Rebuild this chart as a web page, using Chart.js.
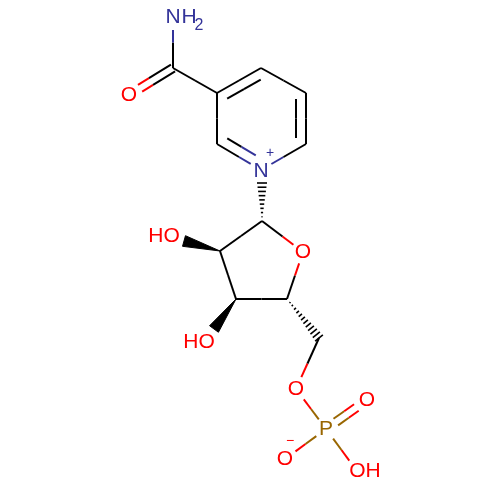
<!DOCTYPE html>
<html>
<head>
<meta charset="utf-8">
<title>Nicotinamide riboside phosphate</title>
<script src="https://cdn.jsdelivr.net/npm/chart.js@4"></script>
<style>
  html, body { margin: 0; padding: 0; background: #fff; }
  canvas { display: block; }
</style>
</head>
<body>
<canvas id="mol" width="500" height="500"></canvas>
<script>
// atoms
const atomX = [173, 173, 129, 217, 261, 306, 306, 261, 217, 262, 303, 287, 236, 220, 319, 296, 326, 367, 285, 357];
const atomY = [ 17,  68,  95,  93,  68,  93, 144, 170, 144, 221, 252, 299, 299, 251, 338, 389, 429, 400, 459, 471];
const atomColor = ['#333399', '#000', '#f00', '#000', '#000', '#000', '#000', '#333399', '#000', '#000', '#f00', '#000', '#000', '#000', '#000', '#f00', '#996600', '#f00', '#f00', '#f00'];
const atomGap = [13, 0, 13, 0, 0, 0, 0, 12, 0, 0, 12, 0, 0, 0, 0, 13, 12, 13, 13, 13];

// bonds: 1 single, 2 double either side of the axis, 3 double with inner line
const bondFrom  = [0, 1, 1, 3, 4, 5, 6, 7, 8, 9, 10, 11, 12, 13, 14, 15, 16, 16, 16];
const bondTo    = [1, 2, 3, 4, 5, 6, 7, 8, 3, 10, 11, 12, 13, 9, 15, 16, 17, 18, 19];
const bondOrder = [1, 2, 1, 3, 1, 3, 1, 3, 1, 1, 1, 1, 1, 1, 1, 1, 2, 1, 1];
const ringCenter = [261, 119];

// stereo bonds: narrow atom, wide end
const wedgeX0 = [220, 236];
const wedgeY0 = [251, 299];
const wedgeX1 = [184, 214];
const wedgeY1 = [241, 329];
const hashX0 = [262, 287];
const hashY0 = [221, 299];
const hashX1 = [262, 319];
const hashY1 = [183, 338];

// text
const labelText = ['N', 'H', '2', 'O', 'N', '+', 'HO', 'HO', 'O', 'O', 'P', 'O', 'O', '\u2212', 'OH'];
const labelX = [173, 189, 199, 129, 261, 270, 164, 199, 303, 296, 326, 367, 285, 290, 365];
const labelY = [17, 17, 26, 95, 171, 153, 236, 342, 252, 389, 429, 400, 459, 441, 471];
const labelSize = [21, 21, 16, 21, 21, 14, 21, 21, 21, 21, 21, 21, 21, 14, 21];
const labelColor = ['#333399', '#333399', '#333399', '#f00', '#333399', '#333399', '#f00', '#f00', '#f00', '#f00', '#996600', '#f00', '#f00', '#f00', '#f00'];

const datasets = [];

function seg(x0, y0, x1, y1, color, width) {
    datasets.push({
        data: [{ x: x0, y: y0 }, { x: x1, y: y1 }],
        borderColor: color,
        borderWidth: width || 2,
        pointRadius: 0,
        tension: 0,
        fill: false
    });
}

// line in two colours, split halfway like the bond it belongs to
function twoTone(x0, y0, x1, y1, c0, c1) {
    const mx = (x0 + x1) / 2, my = (y0 + y1) / 2;
    seg(x0, y0, mx, my, c0);
    seg(mx, my, x1, y1, c1);
}

bondFrom.forEach((a, i) => {
    const b = bondTo[i], order = bondOrder[i];
    let x0 = atomX[a], y0 = atomY[a], x1 = atomX[b], y1 = atomY[b];
    const len = Math.hypot(x1 - x0, y1 - y0);
    const ux = (x1 - x0) / len, uy = (y1 - y0) / len;
    const mx = (x0 + x1) / 2, my = (y0 + y1) / 2;
    const sx0 = x0 + ux * atomGap[a], sy0 = y0 + uy * atomGap[a];
    const sx1 = x1 - ux * atomGap[b], sy1 = y1 - uy * atomGap[b];
    const nx = -uy, ny = ux;

    if (order === 2) {
        [-4, 4].forEach(o => {
            seg(sx0 + nx * o, sy0 + ny * o, mx + nx * o, my + ny * o, atomColor[a]);
            seg(mx + nx * o, my + ny * o, sx1 + nx * o, sy1 + ny * o, atomColor[b]);
        });
        return;
    }
    seg(sx0, sy0, mx, my, atomColor[a]);
    seg(mx, my, sx1, sy1, atomColor[b]);
    if (order === 3) {
        const side = ((ringCenter[0] - mx) * nx + (ringCenter[1] - my) * ny) > 0 ? 1 : -1;
        const o = 10 * side, cut = 6;
        const ax = x0 + ux * cut + nx * o, ay = y0 + uy * cut + ny * o;
        const bx = x1 - ux * cut + nx * o, by = y1 - uy * cut + ny * o;
        const endCut = atomGap[b] ? 6 : 0, startCut = atomGap[a] ? 6 : 0;
        twoTone(ax + ux * startCut, ay + uy * startCut, bx - ux * endCut, by - uy * endCut, atomColor[a], atomColor[b]);
    }
});

wedgeX0.forEach((x0, i) => {
    const y0 = wedgeY0[i], x1 = wedgeX1[i], y1 = wedgeY1[i];
    const len = Math.hypot(x1 - x0, y1 - y0);
    const nx = -(y1 - y0) / len * 5.5, ny = (x1 - x0) / len * 5.5;
    datasets.push({
        data: [{ x: x0, y: y0 }, { x: x1 + nx, y: y1 + ny }, { x: x1 - nx, y: y1 - ny }, { x: x0, y: y0 }],
        borderColor: '#000',
        borderWidth: 1,
        backgroundColor: '#000',
        pointRadius: 0,
        tension: 0,
        fill: 'shape'
    });
});

hashX0.forEach((x0, i) => {
    const y0 = hashY0[i], x1 = hashX1[i], y1 = hashY1[i];
    const len = Math.hypot(x1 - x0, y1 - y0);
    const ux = (x1 - x0) / len, uy = (y1 - y0) / len;
    const count = Math.round(len / 4.3);
    for (let k = 1; k <= count; k++) {
        const t = k / count, w = 5 * t;
        const px = x0 + (x1 - x0) * t, py = y0 + (y1 - y0) * t;
        seg(px - uy * w, py + ux * w, px + uy * w, py - ux * w, '#000', 1.6);
    }
});

const textPlugin = {
    id: 'atomLabels',
    afterDatasetsDraw(chart) {
        const { ctx, scales } = chart;
        ctx.save();
        ctx.textAlign = 'center';
        ctx.textBaseline = 'middle';
        labelText.forEach((t, i) => {
            ctx.font = labelSize[i] + 'px "Liberation Sans", Arial, sans-serif';
            ctx.fillStyle = labelColor[i];
            ctx.fillText(t, scales.x.getPixelForValue(labelX[i]), scales.y.getPixelForValue(labelY[i]));
        });
        ctx.restore();
    }
};

new Chart(document.getElementById('mol').getContext('2d'), {
    type: 'line',
    data: { datasets },
    options: {
        responsive: false,
        animation: false,
        layout: { padding: 0 },
        plugins: { legend: { display: false }, tooltip: { enabled: false } },
        scales: {
            x: { type: 'linear', min: 0, max: 500, display: false },
            y: { type: 'linear', min: 0, max: 500, reverse: true, display: false }
        }
    },
    plugins: [textPlugin]
});
</script>
</body>
</html>
